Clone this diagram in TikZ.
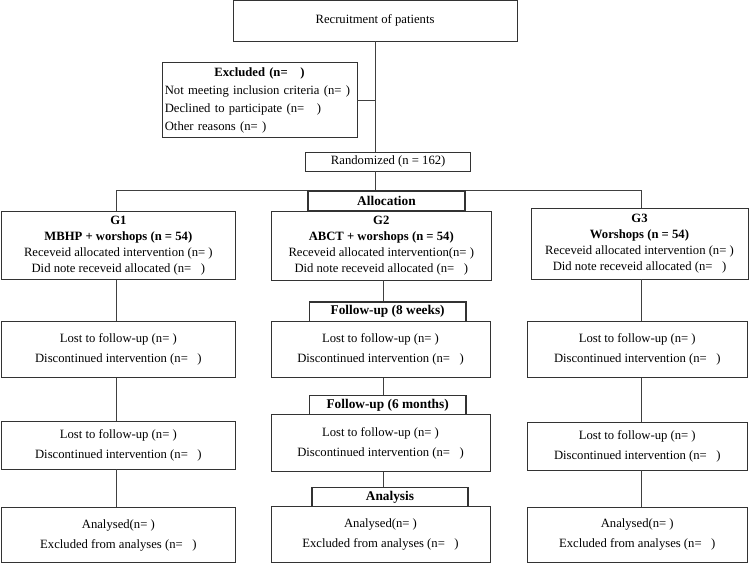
\documentclass[tikz,border=0pt]{standalone}
\usepackage{fontspec}
\setmainfont{Liberation Serif}

\begin{document}
\begin{tikzpicture}[x=0.75pt,y=-0.75pt,
    box/.style={draw=black!80,fill=white,line width=0.6pt,inner sep=0pt,align=center,font=\fontsize{9.5}{15}\selectfont},
    grp/.style={box,font=\fontsize{9.5}{12}\selectfont},
    tab/.style={box,line width=0.9pt,font=\bfseries\fontsize{10}{12}\selectfont},
    link/.style={draw=black!75,line width=0.6pt}]
  \useasboundingbox (0,0) rectangle (751,564);

  \coordinate (colT) at (375.7,0);
  \coordinate (colA) at (116,0);
  \coordinate (colB) at (383.3,0);
  \coordinate (colC) at (641,0);

  \node[box,minimum width=213pt,minimum height=30.2pt] (recr) at (375,20.85) {Recruitment of patients};
  \node[box,align=left,text width=142pt,inner xsep=2.1pt,minimum height=56.25pt,font=\fontsize{9.5}{13.5}\selectfont] (excl) at (259.5,100.2)
    {\hfil\textbf{Excluded (n=~~~)}\hfil\\ Not meeting inclusion criteria (n=~)\\ Declined to participate (n=~~~)\\ Other reasons (n=~)};
  \node[box,minimum width=123.75pt,minimum height=13.7pt] (rand) at (388.2,161.85) {Randomized (n = 162)};

  \node[grp,minimum width=176pt,minimum height=50.7pt] (g1) at (118.35,245.5)
    {\textbf{G1}\\ \textbf{MBHP + worshops (n = 54)}\\ Receveid allocated intervention (n=~)\\ Did note receveid allocated (n=~~~)};
  \node[grp,minimum width=165.4pt,minimum height=51.2pt] (g2) at (381.25,245.85)
    {\textbf{G2}\\ \textbf{ABCT + worshops (n = 54)}\\ Receveid allocated intervention(n=~)\\ Did note receveid allocated (n=~~~)};
  \node[grp,minimum width=162.75pt,minimum height=53pt] (g3) at (639.5,243.65)
    {\textbf{G3}\\ \textbf{Worshops (n = 54)}\\ Receveid allocated intervention (n=~)\\ Did note receveid allocated (n=~~~)};

  \node[box,minimum width=176pt,minimum height=42pt] (l1) at (118.35,349.3) {Lost to follow-up (n=~)\\ Discontinued intervention (n=~~~)};
  \node[box,minimum width=164.25pt,minimum height=42pt] (m1) at (380.5,349.3) {Lost to follow-up (n=~)\\ Discontinued intervention (n=~~~)};
  \node[box,minimum width=165.4pt,minimum height=42pt] (r1) at (637.25,349.3) {Lost to follow-up (n=~)\\ Discontinued intervention (n=~~~)};

  \node[box,minimum width=176pt,minimum height=35.8pt] (l2) at (118.35,445.15) {Lost to follow-up (n=~)\\ Discontinued intervention (n=~~~)};
  \node[box,minimum width=164.25pt,minimum height=42.45pt] (m2) at (380.5,443) {Lost to follow-up (n=~)\\ Discontinued intervention (n=~~~)};
  \node[box,minimum width=165.4pt,minimum height=36pt] (r2) at (637.25,446) {Lost to follow-up (n=~)\\ Discontinued intervention (n=~~~)};

  \node[box,minimum width=176pt,minimum height=41.55pt] (l3) at (118.35,535) {Analysed(n=~)\\ Excluded from analyses (n=~~~)};
  \node[box,minimum width=164.25pt,minimum height=42.3pt] (m3) at (380.5,534.5) {Analysed(n=~)\\ Excluded from analyses (n=~~~)};
  \node[box,minimum width=165.4pt,minimum height=41.55pt] (r3) at (637.25,534.85) {Analysed(n=~)\\ Excluded from analyses (n=~~~)};

  \node[tab,minimum width=117.5pt,minimum height=14.5pt] (fu1) at (387.65,311.65) {Follow-up (8 weeks)};
  \node[tab,minimum width=117.5pt,minimum height=14.25pt] (fu2) at (387.65,405.2) {Follow-up (6 months)};
  \node[tab,minimum width=117pt,minimum height=14pt] (an) at (390,497) {Analysis};

  \path[link] (recr.south -| colT) edge (rand.north -| colT)
        (excl.east) edge (excl.east -| colT)
        (rand.south -| colT) edge (colT |- 0,190.7)
        (g1.south -| colA) edge (l1.north -| colA)
        (l1.south -| colA) edge (l2.north -| colA)
        (l2.south -| colA) edge (l3.north -| colA)
        (g2.south -| colB) edge (fu1.north -| colB)
        (m1.south -| colB) edge (fu2.north -| colB)
        (m2.south -| colB) edge (an.north -| colB)
        (g3.south -| colC) edge (r1.north -| colC)
        (r1.south -| colC) edge (r2.north -| colC)
        (r2.south -| colC) edge (r3.north -| colC);
  \draw[link] (g1.north -| colA) -- (colA |- 0,190.7) -- (colC |- 0,190.7) -- (g3.north -| colC);

  \node[tab,line width=1.4pt,minimum width=117.75pt,minimum height=15pt] (alloc) at (386.5,201) {Allocation};
\end{tikzpicture}
\end{document}
